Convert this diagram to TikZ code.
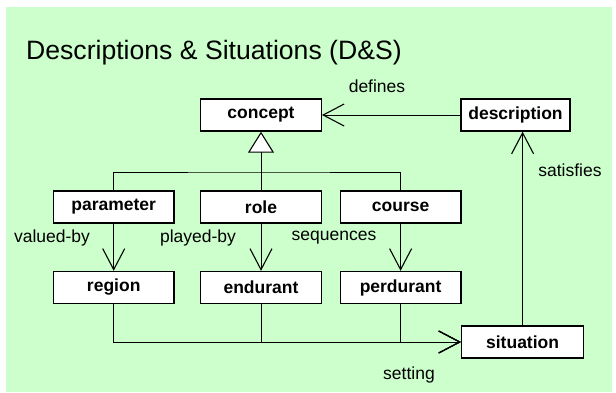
\documentclass[tikz,border=0pt]{standalone}
\usepackage{fontspec}
\setmainfont{Liberation Sans}
\usetikzlibrary{arrows.meta}
\definecolor{bggreen}{HTML}{CCFFCC}
\begin{document}
\begin{tikzpicture}[x=1pt,y=-1pt,
  cls/.style={draw=black,line width=1.4pt,fill=white,minimum width=120.5pt,minimum height=32pt,inner sep=0pt,font=\fontsize{17.5}{20}\selectfont\bfseries},
  lbl/.style={font=\fontsize{17.5}{20}\selectfont,inner sep=0pt},
  conn/.style={draw=black,line width=0.9pt},
  barb/.style={-{Straight Barb[length=21pt,width=22pt,line width=1.1pt,sharp]}},
  gen/.style={-{Triangle[length=21pt,width=26pt,fill=white,line width=1.1pt]}}]
\useasboundingbox (0,0) rectangle (616,392);
\fill[bggreen] (6,7) rectangle (612,392);
\node[anchor=base west,inner sep=0pt,font=\fontsize{26.6}{30}\selectfont] (title) at (26,59.3) {Descriptions \& Situations (D\&S)};
\node[cls] (concept) at (261,115) {concept};
\node[cls,minimum width=109pt] (description) at (515.5,115) {description};
\node[cls] (parameter) at (113.7,207) {parameter};
\node[cls] (role) at (261,207) {role};
\node[cls] (course) at (400.6,207) {course};
\node[cls] (region) at (113.7,287.5) {region};
\node[cls] (endurant) at (261,287.5) {endurant};
\node[cls] (perdurant) at (400.6,287.5) {perdurant};
\node[cls,minimum width=122pt] (situation) at (522.6,342) {situation};
\node[lbl] (defines) at (377,86) {defines};
\node[lbl] (satisfies) at (570,170) {satisfies};
\node[lbl] (valuedby) at (52,238) {valued-by};
\node[lbl] (playedby) at (198,238) {played-by};
\node[lbl] (sequences) at (334,238) {sequences};
\node[lbl] (setting) at (409,375) {setting};
\coordinate (bus) at (261,172);
\draw[conn] (parameter.north) |- (bus) -| (course.north);
\draw[conn,gen] (role.north) -- (concept.south);
\draw[conn,barb] (description.west) -- (concept.east);
\draw[conn,barb] (situation.north) -- (situation.north |- description.south);
\draw[conn,barb] (parameter.south) -- (region.north);
\draw[conn,barb] (role.south) -- (endurant.north);
\draw[conn,barb] (course.south) -- (perdurant.north);
\draw[conn,barb] (region.south) |- (situation.west);
\draw[conn,barb] (endurant.south) |- (situation.west);
\draw[conn,barb] (perdurant.south) |- (situation.west);
\end{tikzpicture}
\end{document}
